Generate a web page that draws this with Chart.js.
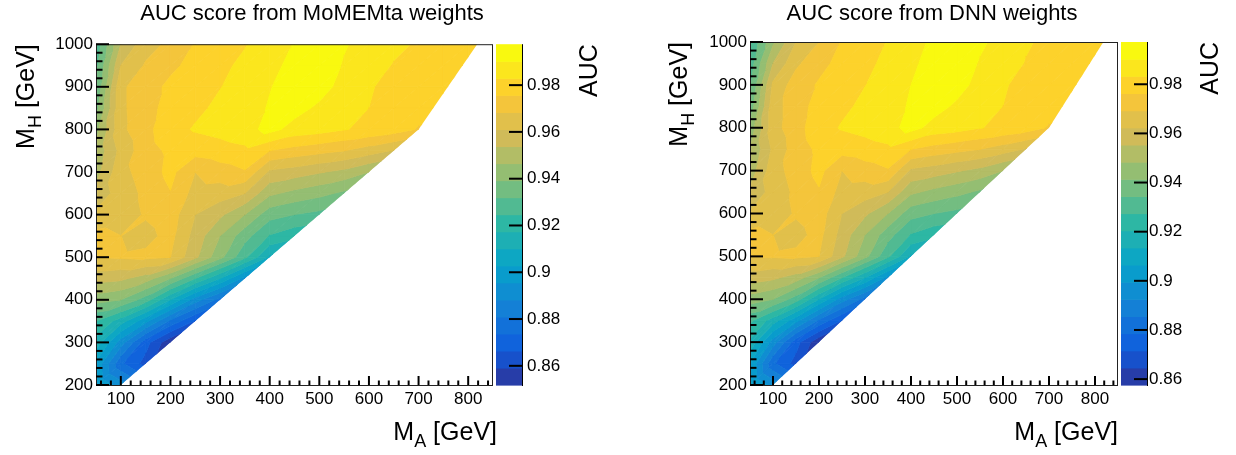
<!DOCTYPE html>
<html>
<head>
<meta charset="utf-8">
<script src="https://cdn.jsdelivr.net/npm/chart.js@4.4.1/dist/chart.umd.min.js"></script>
<style>
  html, body { margin: 0; padding: 0; background: #fff; }
  #wrap { position: relative; width: 1236px; height: 455px; }
  .pane { position: absolute; top: 0; width: 618px; height: 455px; }
</style>
</head>
<body>
<div id="wrap">
  <div class="pane" style="left:0"><canvas id="momemtaChart" width="618" height="455"></canvas></div>
  <div class="pane" style="left:618px"><canvas id="dnnChart" width="618" height="455"></canvas></div>
</div>
<script>
// ---- data: mass grid (GeV) ----
const massA = [50, 100, 150, 200, 250, 300, 350, 400, 450, 500, 550, 600, 650, 700, 750, 800, 850];
const massH = [200, 250, 300, 350, 400, 450, 500, 550, 600, 650, 700, 750, 800, 850, 900, 950, 1000];

// outline of the scanned region (MA, MH)
const hullMA = [50, 100, 700, 2000, 50];
const hullMH = [200, 200, 800, 3000, 3000];

// axis ticks
const maTicks = [100, 200, 300, 400, 500, 600, 700, 800];
const mhTicks = [200, 300, 400, 500, 600, 700, 800, 900, 1000];
const zTicks = [0.86, 0.88, 0.90, 0.92, 0.94, 0.96, 0.98];

// colour scale range of each plot
const zRangeMoMEMta = [0.8518, 0.9975];
const zRangeDNN = [0.8576, 0.9972];
const nLevels = 20;

// AUC per row of massH (row 0 = 200 GeV), one value per massA column
const aucMoMEMta = [
  [0.9028, 0.8918],
  [0.9013, 0.8752, 0.8635],
  [0.9145, 0.8918, 0.8693, 0.8533],
  [0.9247, 0.9137, 0.8977, 0.8795, 0.8657],
  [0.9421, 0.9392, 0.9283, 0.9101, 0.8918, 0.8781],
  [0.9567, 0.9553, 0.9501, 0.9392, 0.9247, 0.9101, 0.8926],
  [0.9684, 0.9691, 0.9699, 0.9684, 0.9553, 0.9414, 0.9262, 0.9086],
  [0.9706, 0.9684, 0.9662, 0.9706, 0.9582, 0.9465, 0.9348, 0.9240, 0.9196],
  [0.9626, 0.9647, 0.9691, 0.9720, 0.9611, 0.9553, 0.9465, 0.9348, 0.9319, 0.9298],
  [0.9560, 0.9647, 0.9699, 0.9753, 0.9655, 0.9647, 0.9611, 0.9480, 0.9443, 0.9414, 0.9377],
  [0.9509, 0.9662, 0.9713, 0.9778, 0.9684, 0.9720, 0.9750, 0.9596, 0.9574, 0.9545, 0.9516, 0.9465],
  [0.9487, 0.9633, 0.9728, 0.9771, 0.9785, 0.9800, 0.9814, 0.9756, 0.9728, 0.9706, 0.9684, 0.9647, 0.9604],
  [0.9436, 0.9666, 0.9735, 0.9803, 0.9836, 0.9851, 0.9873, 0.9927, 0.9873, 0.9858, 0.9833, 0.9814, 0.9792, 0.9750],
  [0.9363, 0.9669, 0.9728, 0.9785, 0.9814, 0.9844, 0.9865, 0.9909, 0.9931, 0.9887, 0.9858, 0.9829, 0.9800, 0.9785, 0.9778],
  [0.9319, 0.9669, 0.9728, 0.9771, 0.9792, 0.9827, 0.9858, 0.9898, 0.9938, 0.9935, 0.9873, 0.9836, 0.9807, 0.9792, 0.9785, 0.9778],
  [0.9298, 0.9611, 0.9691, 0.9742, 0.9778, 0.9814, 0.9844, 0.9880, 0.9924, 0.9946, 0.9895, 0.9858, 0.9825, 0.9807, 0.9792, 0.9781],
  [0.9269, 0.9538, 0.9655, 0.9699, 0.9760, 0.9800, 0.9825, 0.9865, 0.9906, 0.9946, 0.9909, 0.9873, 0.9844, 0.9822, 0.9800, 0.9785, 0.9778]
];

const aucDNN = [
  [0.9079, 0.8967],
  [0.9065, 0.8799, 0.8688],
  [0.9190, 0.8960, 0.8744, 0.8590],
  [0.9288, 0.9169, 0.9016, 0.8841, 0.8709],
  [0.9449, 0.9414, 0.9309, 0.9134, 0.8960, 0.8827],
  [0.9588, 0.9567, 0.9518, 0.9414, 0.9274, 0.9134, 0.8967],
  [0.9693, 0.9700, 0.9707, 0.9693, 0.9567, 0.9435, 0.9288, 0.9121],
  [0.9714, 0.9693, 0.9672, 0.9714, 0.9595, 0.9483, 0.9372, 0.9267, 0.9225],
  [0.9630, 0.9658, 0.9700, 0.9728, 0.9623, 0.9567, 0.9483, 0.9372, 0.9344, 0.9323],
  [0.9567, 0.9651, 0.9707, 0.9756, 0.9665, 0.9658, 0.9623, 0.9497, 0.9463, 0.9435, 0.9400],
  [0.9511, 0.9665, 0.9721, 0.9784, 0.9693, 0.9728, 0.9756, 0.9609, 0.9588, 0.9560, 0.9532, 0.9483],
  [0.9483, 0.9637, 0.9728, 0.9777, 0.9791, 0.9805, 0.9819, 0.9763, 0.9735, 0.9714, 0.9693, 0.9658, 0.9616],
  [0.9435, 0.9665, 0.9735, 0.9805, 0.9838, 0.9853, 0.9874, 0.9930, 0.9874, 0.9860, 0.9835, 0.9819, 0.9798, 0.9756],
  [0.9365, 0.9665, 0.9728, 0.9791, 0.9819, 0.9846, 0.9867, 0.9912, 0.9933, 0.9888, 0.9860, 0.9832, 0.9805, 0.9791, 0.9784],
  [0.9330, 0.9637, 0.9728, 0.9770, 0.9798, 0.9831, 0.9860, 0.9902, 0.9944, 0.9933, 0.9874, 0.9839, 0.9812, 0.9798, 0.9791, 0.9784],
  [0.9302, 0.9553, 0.9679, 0.9742, 0.9784, 0.9819, 0.9846, 0.9888, 0.9930, 0.9951, 0.9895, 0.9860, 0.9829, 0.9812, 0.9798, 0.9787],
  [0.9274, 0.9470, 0.9623, 0.9693, 0.9766, 0.9805, 0.9835, 0.9874, 0.9916, 0.9951, 0.9916, 0.9874, 0.9839, 0.9819, 0.9805, 0.9791, 0.9784]
];

// ---- ROOT "bird" palette ----
const birdStops = [0.0, 0.125, 0.25, 0.375, 0.5, 0.625, 0.75, 0.875, 1.0];
const birdRed   = [0.2082, 0.0592, 0.0780, 0.0232, 0.1802, 0.5301, 0.8186, 0.9956, 0.9764];
const birdGreen = [0.1664, 0.3599, 0.5041, 0.6419, 0.7178, 0.7492, 0.7328, 0.7862, 0.9832];
const birdBlue  = [0.5293, 0.8684, 0.8385, 0.7914, 0.6425, 0.4662, 0.3499, 0.1968, 0.0539];

function birdColor(t) {
    let s = 1;
    while (s < birdStops.length - 1 && t > birdStops[s]) s++;
    const f = (t - birdStops[s - 1]) / (birdStops[s] - birdStops[s - 1]);
    const mix = arr => Math.round(255 * (arr[s - 1] + f * (arr[s] - arr[s - 1])));
    return `rgb(${mix(birdRed)},${mix(birdGreen)},${mix(birdBlue)})`;
}
const bandColors = [];
for (let k = 0; k < nLevels; k++) {
    bandColors.push(birdColor(Math.floor((k + 0.99) * 255 / nLevels) / 255));
}

const FONT = '"Liberation Sans", Arial, Helvetica, sans-serif';
Chart.defaults.font.family = FONT;
Chart.defaults.color = '#000';

// keep the part of a polygon where sign*(v - level) >= 0
function clipPoly(poly, level, sign) {
    if (!isFinite(level)) return poly;
    const out = [];
    poly.forEach((p, n) => {
        const q = poly[(n + 1) % poly.length];
        const pin = sign * (p.v - level) >= 0;
        const qin = sign * (q.v - level) >= 0;
        if (pin) out.push(p);
        if (pin !== qin) {
            const t = (level - p.v) / (q.v - p.v);
            out.push({ x: p.x + t * (q.x - p.x), y: p.y + t * (q.y - p.y), v: level });
        }
    });
    return out;
}

function fillBands(ctx, tri, zMin, step) {
    const vs = tri.map(p => p.v);
    const vLo = Math.min(...vs), vHi = Math.max(...vs);
    for (let k = 0; k < nLevels; k++) {
        const lo = k === 0 ? -Infinity : zMin + k * step;
        const hi = k === nLevels - 1 ? Infinity : zMin + (k + 1) * step;
        if (vHi < lo || vLo > hi) continue;
        const poly = clipPoly(clipPoly(tri, lo, 1), hi, -1);
        if (poly.length < 3) continue;
        ctx.beginPath();
        poly.forEach((p, n) => n ? ctx.lineTo(p.x, p.y) : ctx.moveTo(p.x, p.y));
        ctx.closePath();
        ctx.fillStyle = ctx.strokeStyle = bandColors[k];
        ctx.fill();
        ctx.stroke();
    }
}

function line(ctx, x0, y0, x1, y1) {
    ctx.beginPath();
    ctx.moveTo(x0, y0);
    ctx.lineTo(x1, y1);
    ctx.stroke();
}

// "M" + subscript + rest, anchored at its right end
function subTitle(ctx, x, y, sub, rotate) {
    ctx.save();
    ctx.translate(x, y);
    if (rotate) ctx.rotate(-Math.PI / 2);
    const big = `25px ${FONT}`, small = `18px ${FONT}`;
    ctx.font = big;
    const w1 = ctx.measureText('M').width, w3 = ctx.measureText(' [GeV]').width;
    ctx.font = small;
    const w2 = ctx.measureText(sub).width;
    let cx = -(w1 + w2 + w3);
    ctx.fillStyle = '#000';
    ctx.textAlign = 'left';
    ctx.textBaseline = 'alphabetic';
    ctx.font = big; ctx.fillText('M', cx, 0); cx += w1;
    ctx.font = small; ctx.fillText(sub, cx, 7); cx += w2;
    ctx.font = big; ctx.fillText(' [GeV]', cx, 0);
    ctx.restore();
}

const contourPlugin = {
    id: 'contour',
    beforeDatasetsDraw(chart, args, opts) {
        const { ctx, chartArea: a } = chart;
        const xs = chart.scales.x, ys = chart.scales.y;
        const [zMin, zMax] = opts.zRange;
        const step = (zMax - zMin) / nLevels;
        const node = (i, j) => {
            const row = opts.values[j];
            if (!row || i >= row.length) return null;
            return { x: xs.getPixelForValue(massA[i]), y: ys.getPixelForValue(massH[j]), v: row[i] };
        };
        ctx.save();
        ctx.beginPath();
        ctx.rect(a.left, a.top, a.right - a.left, a.bottom - a.top);
        ctx.clip();
        ctx.beginPath();
        hullMA.forEach((m, k) => {
            const hx = xs.getPixelForValue(m), hy = ys.getPixelForValue(hullMH[k]);
            k ? ctx.lineTo(hx, hy) : ctx.moveTo(hx, hy);
        });
        ctx.closePath();
        ctx.clip();
        ctx.lineWidth = 0.8;
        ctx.lineJoin = 'round';
        for (let j = 0; j < massH.length - 1; j++) {
            for (let i = 0; i < massA.length - 1; i++) {
                const ll = node(i, j), lr = node(i + 1, j), ul = node(i, j + 1), ur = node(i + 1, j + 1);
                [[ll, lr, ur], [ll, ur, ul]].forEach(tri => {
                    if (tri.some(p => !p)) return;
                    fillBands(ctx, tri, zMin, step);
                });
            }
        }
        ctx.restore();
    },
    afterDraw(chart, args, opts) {
        const { ctx, chartArea: a } = chart;
        const xs = chart.scales.x, ys = chart.scales.y, zs = chart.scales.z;
        const [zMin, zMax] = opts.zRange;
        const step = (zMax - zMin) / nLevels;
        ctx.save();

        // colour bar
        const bx0 = a.right + 3, bx1 = a.right + 29;
        for (let k = 0; k < nLevels; k++) {
            const y0 = zs.getPixelForValue(zMin + k * step);
            const y1 = zs.getPixelForValue(zMin + (k + 1) * step);
            ctx.fillStyle = bandColors[k];
            ctx.fillRect(bx0, y1, bx1 - bx0, y0 - y1 + 0.6);
        }
        ctx.strokeStyle = '#000';
        ctx.lineWidth = 1;
        line(ctx, bx1 + 0.5, a.top, bx1 + 0.5, a.bottom + 1);
        ctx.lineWidth = 2;
        zTicks.forEach(v => {
            const y = zs.getPixelForValue(v);
            line(ctx, bx1 - 13, y, bx1, y);
        });

        // frame
        ctx.strokeStyle = '#222';
        ctx.lineWidth = 1;
        ctx.strokeRect(a.left + 0.5, a.top + 0.5, a.right - a.left - 1, a.bottom - a.top);

        // ticks pointing inwards, minor every 20 GeV
        ctx.strokeStyle = '#000';
        ctx.lineWidth = 2;
        for (let v = massH[0]; v <= massH[massH.length - 1]; v += 20) {
            const y = ys.getPixelForValue(v);
            line(ctx, a.left, y, a.left + (v % 100 ? 6.5 : 13), y);
        }
        for (let v = 60; v < 850; v += 20) {
            const x = xs.getPixelForValue(v);
            line(ctx, x, a.bottom, x, a.bottom - (v % 100 ? 4.5 : 9));
        }

        // titles
        ctx.fillStyle = '#000';
        ctx.font = `22px ${FONT}`;
        ctx.textAlign = 'center';
        ctx.textBaseline = 'alphabetic';
        ctx.fillText(opts.title, opts.titleX, 20);

        subTitle(ctx, opts.xTitleRight, 440, 'A', false);
        subTitle(ctx, opts.yTitleX, a.top, 'H', true);

        ctx.save();
        ctx.translate(opts.zTitleX, a.top);
        ctx.rotate(-Math.PI / 2);
        ctx.font = `25px ${FONT}`;
        ctx.textAlign = 'right';
        ctx.fillText('AUC', 0, 0);
        ctx.restore();

        ctx.restore();
    }
};

function makeChart(id, cfg) {
    const tickFont = { size: 17, family: FONT };
    return new Chart(document.getElementById(id), {
        type: 'scatter',
        data: { datasets: [{ data: [], pointRadius: 0 }] },
        options: {
            responsive: false,
            animation: false,
            events: [],
            layout: { padding: { left: 0, right: 0, top: 42, bottom: 0 } },
            plugins: {
                legend: { display: false },
                tooltip: { enabled: false },
                contour: cfg
            },
            scales: {
                x: {
                    type: 'linear', position: 'bottom', min: 50, max: 850,
                    afterFit: s => { s.height = 70; },
                    afterBuildTicks: s => { s.ticks = maTicks.map(v => ({ value: v })); },
                    grid: { display: false, drawTicks: false },
                    border: { display: false },
                    ticks: { autoSkip: false, maxRotation: 0, padding: 4, font: tickFont, color: '#000', callback: v => String(v) }
                },
                y: {
                    type: 'linear', position: 'left', min: 200, max: 1000,
                    afterFit: s => { s.width = cfg.left; },
                    afterBuildTicks: s => { s.ticks = mhTicks.map(v => ({ value: v })); },
                    grid: { display: false, drawTicks: false },
                    border: { display: false },
                    ticks: { autoSkip: false, padding: 3, font: tickFont, color: '#000', callback: v => String(v) }
                },
                z: {
                    type: 'linear', axis: 'y', position: 'right', min: cfg.zRange[0], max: cfg.zRange[1],
                    afterFit: s => { s.width = 618 - cfg.right; },
                    afterBuildTicks: s => { s.ticks = zTicks.map(v => ({ value: v })); },
                    grid: { display: false, drawTicks: false },
                    border: { display: false },
                    ticks: { autoSkip: false, padding: cfg.zPad, font: tickFont, color: '#000', callback: v => String(+v.toFixed(2)) }
                }
            }
        },
        plugins: [contourPlugin]
    });
}

makeChart('momemtaChart', {
    title: 'AUC score from MoMEMta weights',
    values: aucMoMEMta, zRange: zRangeMoMEMta,
    left: 96, right: 493, zPad: 34,
    titleX: 312, xTitleRight: 497, yTitleX: 34, zTitleX: 597
});
makeChart('dnnChart', {
    title: 'AUC score from DNN weights',
    values: aucDNN, zRange: zRangeDNN,
    left: 132, right: 500, zPad: 31,
    titleX: 314, xTitleRight: 500, yTitleX: 69, zTitleX: 600
});
</script>
</body>
</html>
